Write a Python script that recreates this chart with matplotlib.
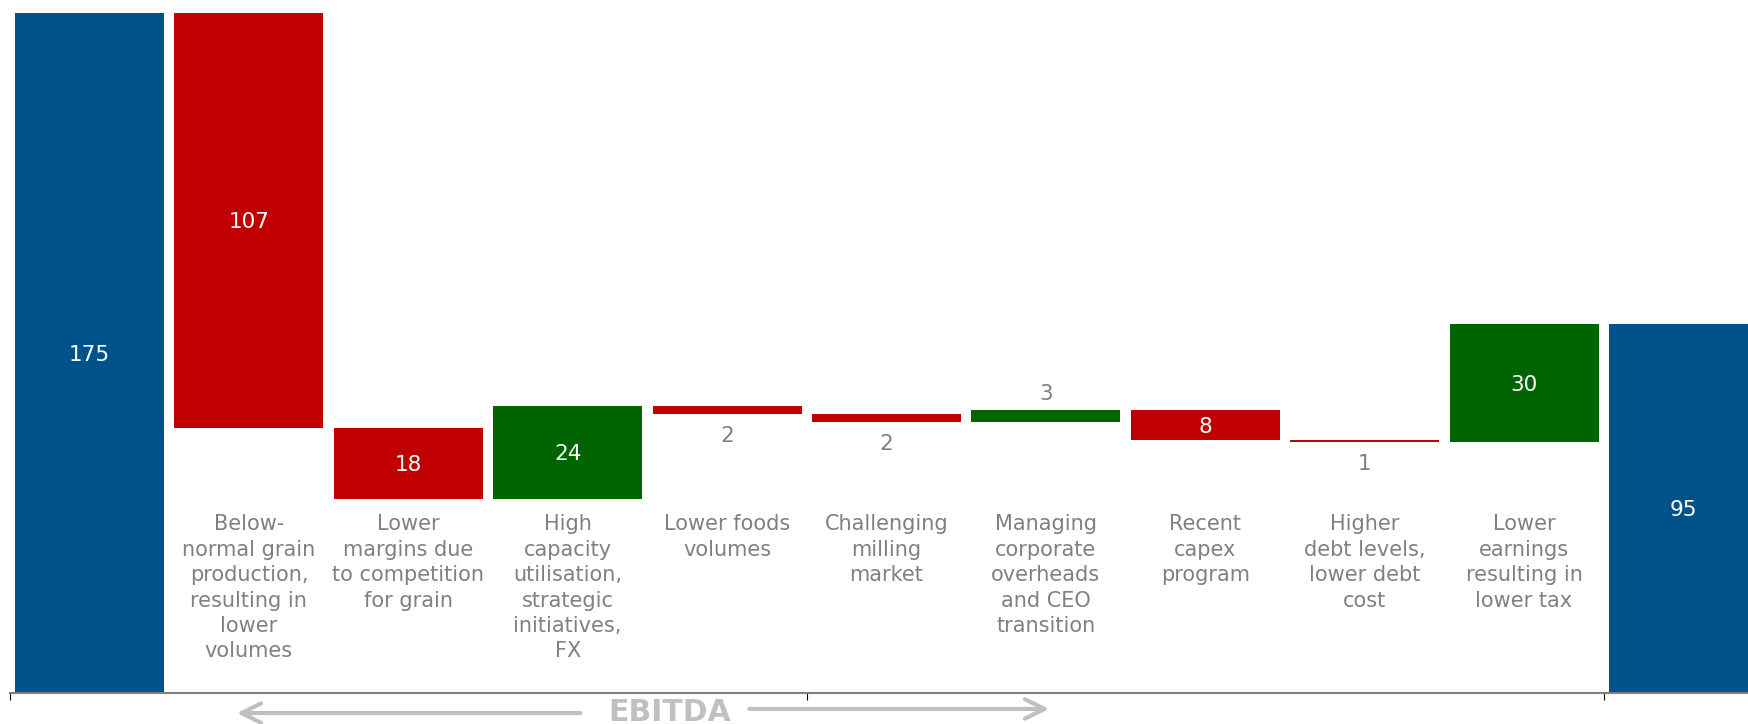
import numpy as np
import matplotlib
matplotlib.use('Agg')
import matplotlib.pyplot as plt

# ── data ──────────────────────────────────────────────────────────────────────

categories = [
    '',
    'Below-\nnormal grain\nproduction,\nresulting in\nlower\nvolumes',
    'Lower\nmargins due\nto competition\nfor grain',
    'High\ncapacity\nutilisation,\nstrategic\ninitiatives,\nFX',
    'Lower foods\nvolumes',
    'Challenging\nmilling\nmarket',
    'Managing\ncorporate\noverheads\nand CEO\ntransition',
    'Recent\ncapex\nprogram',
    'Higher\ndebt levels,\nlower debt\ncost',
    'Lower\nearnings\nresulting in\nlower tax',
    '',
]
start_value = 175.0
deltas      = [-106.8, -18.2, 23.8, -2.0, -2.0, 3.0, -7.6, -0.6, 30.4]
end_value   = 95.0

# ── colours ───────────────────────────────────────────────────────────────────

BLUE  = '#00528A'
RED   = '#C00000'
GREEN = '#006400'
GREY  = '#808080'
LIGHT = '#C0C0C0'

# ── waterfall geometry ────────────────────────────────────────────────────────

running  = start_value + np.concatenate([[0.0], np.cumsum(deltas)])
bottoms  = [0.0] + [min(running[i], running[i + 1]) for i in range(len(deltas))] + [0.0]
heights  = [start_value] + [abs(d) for d in deltas] + [end_value]
signed   = [start_value] + deltas + [end_value]
colors   = [BLUE] + [GREEN if d > 0 else RED for d in deltas] + [BLUE]
x        = np.arange(len(heights))

# ── plot ──────────────────────────────────────────────────────────────────────

fig = plt.figure(figsize=(17.48, 7.24), dpi=100)
left_px, axis_px = 9.8, 693
ax = fig.add_axes([left_px / 1748, (724 - axis_px) / 724, 1 - left_px / 1748, axis_px / 724])

ax.bar(x, heights, bottom=bottoms, width=0.935, color=colors, linewidth=0)
ax.set_xlim(-0.5, 10.405)
ax.set_ylim(0, 178.3)

for s in ['top', 'left', 'right']:
    ax.spines[s].set_visible(False)
ax.spines['bottom'].set_color(GREY)
ax.spines['bottom'].set_linewidth(1.5)
ax.set_yticks([])
ax.set_xticks([-0.5, 4.5, 9.5])
ax.set_xticklabels([])
ax.tick_params(axis='x', direction='out', length=5, width=0.8, color='black')

# value labels
for xi, b, h, v in zip(x, bottoms, heights, signed):
    txt = f'{abs(v):.0f}'
    if h >= 5:
        ax.text(xi, b + h / 2, txt, ha='center', va='center_baseline',
                color='white', fontsize=15.5)
    elif v > 0:
        ax.annotate(txt, (xi, b + h), xytext=(0, 4), textcoords='offset points',
                    ha='center', va='bottom', color=GREY, fontsize=15.5)
    else:
        ax.annotate(txt, (xi, b), xytext=(0, -9), textcoords='offset points',
                    ha='center', va='top', color=GREY, fontsize=15.5)

# category labels under the bars
for xi, lab in zip(x, categories):
    if lab:
        ax.text(xi, 46.0, lab, ha='center', va='top', color=GREY,
                fontsize=15, linespacing=1.34)

# EBITDA bracket arrows
trans = ax.get_xaxis_transform()
arrow_kw = dict(arrowstyle='->,head_length=0.7,head_width=0.35', lw=3,
                color=LIGHT, mutation_scale=20, shrinkA=0, shrinkB=0)
ax.annotate('', xy=(0.925, -0.029), xytext=(3.08, -0.029), xycoords=trans,
            textcoords=trans, arrowprops=arrow_kw, annotation_clip=False)
ax.annotate('', xy=(6.02, -0.023), xytext=(4.14, -0.023), xycoords=trans,
            textcoords=trans, arrowprops=arrow_kw, annotation_clip=False)
ax.text(3.64, -0.040, 'EBITDA', transform=trans, ha='center', va='baseline',
        color=LIGHT, fontsize=21.5, fontweight='bold', clip_on=False)

fig.savefig('out.png', dpi=100)
